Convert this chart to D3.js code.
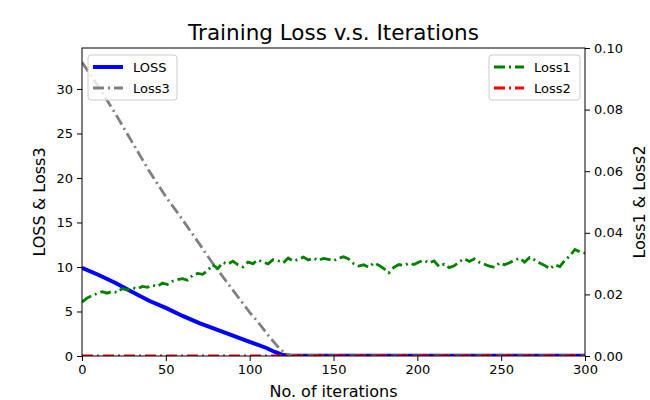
<!DOCTYPE html>
<html>
<head>
<meta charset="utf-8">
<script src="https://cdn.jsdelivr.net/npm/d3@7"></script>
<style>
  body { margin: 0; background: #fff; }
  svg { font-family: "DejaVu Sans", sans-serif; }
</style>
</head>
<body>
<div id="chart"></div>
<script>
// data
// ==================================
// LOSS and Loss3 (left axis) are smooth, so a few points are enough
var lossIters = [0, 10, 20, 30, 40, 50, 60, 70, 80, 90, 100, 110, 115, 120, 125, 150, 200, 250, 300];
var lossVals = [9.9, 9.1, 8.2, 7.2, 6.2, 5.4, 4.5, 3.7, 3.0, 2.3, 1.6, 0.9, 0.45, 0.1, 0.03, 0.02, 0.02, 0.02, 0.02];

var loss3Iters = [0, 10, 20, 30, 35, 40, 50, 60, 70, 78, 90, 100, 105, 112, 118, 122, 125, 150, 200, 250, 300];
var loss3Vals = [33.0, 30.2, 27.2, 24.0, 22.4, 20.8, 17.9, 15.3, 12.6, 10.4, 7.4, 4.9, 3.8, 2.1, 0.8, 0.2, 0.05, 0.02, 0.02, 0.02, 0.02];

// Loss1 (right axis), one value every 3 iterations
var loss1Step = 3;
var loss1Vals = [
  0.0175, 0.0188, 0.0196, 0.0203, 0.0209, 0.0204, 0.0210, 0.0206, 0.0219, 0.0214,
  0.0222, 0.0218, 0.0226, 0.0223, 0.0230, 0.0226, 0.0237, 0.0232, 0.0243, 0.0248,
  0.0251, 0.0246, 0.0262, 0.0268, 0.0265, 0.0278, 0.0296, 0.0284, 0.0304, 0.0298,
  0.0308, 0.0296, 0.0289, 0.0305, 0.0300, 0.0312, 0.0305, 0.0299, 0.0313, 0.0309,
  0.0302, 0.0318, 0.0308, 0.0314, 0.0321, 0.0312, 0.0318, 0.0310, 0.0317, 0.0314,
  0.0309, 0.0318, 0.0322, 0.0315, 0.0300, 0.0292, 0.0296, 0.0288, 0.0302, 0.0295,
  0.0284, 0.0270, 0.0288, 0.0297, 0.0294, 0.0301, 0.0297, 0.0305, 0.0311, 0.0302,
  0.0309, 0.0290, 0.0298, 0.0287, 0.0293, 0.0306, 0.0316, 0.0307, 0.0315, 0.0304,
  0.0298, 0.0292, 0.0288, 0.0302, 0.0296, 0.0303, 0.0311, 0.0318, 0.0305, 0.0320,
  0.0312, 0.0302, 0.0294, 0.0283, 0.0296, 0.0290, 0.0311, 0.0325, 0.0346, 0.0338,
  0.0334
];

// Loss2 sits on zero the whole run
var loss2Iters = [0, 100, 200, 300];
var loss2Vals = [0, 0, 0, 0];

var xTicks = [0, 50, 100, 150, 200, 250, 300];
var yLeftTicks = [0, 5, 10, 15, 20, 25, 30];
var yRightTicks = [0, 0.02, 0.04, 0.06, 0.08, 0.10];

// SVG wrapper and plot area
// =========================
var svgWidth = 650;
var svgHeight = 400;

var margin = { top: 48, right: 65, bottom: 44, left: 82 };
var width = svgWidth - margin.left - margin.right;
var height = svgHeight - margin.top - margin.bottom;

var svg = d3.select("#chart")
  .append("svg")
  .attr("width", svgWidth)
  .attr("height", svgHeight);

svg.append("defs").append("clipPath")
  .attr("id", "plotClip")
  .append("rect")
  .attr("width", width)
  .attr("height", height);

var chartGroup = svg.append("g")
  .attr("transform", `translate(${margin.left}, ${margin.top})`);

// scales
var xScale = d3.scaleLinear().domain([0, 300]).range([0, width]);
var yLeft = d3.scaleLinear().domain([0, 34.6]).range([height, 0]);
var yRight = d3.scaleLinear().domain([0, 0.1]).range([height, 0]);

function toPoints(iters, vals) {
  return iters.map((it, i) => ({ x: it, y: vals[i] }));
}

var lossData = toPoints(lossIters, lossVals);
var loss3Data = toPoints(loss3Iters, loss3Vals);
var loss1Data = loss1Vals.map((v, i) => ({ x: i * loss1Step, y: v }));
var loss2Data = toPoints(loss2Iters, loss2Vals);

var lineLeft = d3.line().x(d => xScale(d.x)).y(d => yLeft(d.y));
var lineRight = d3.line().x(d => xScale(d.x)).y(d => yRight(d.y));

var lines = chartGroup.append("g").attr("clip-path", "url(#plotClip)");

// left axis lines
lines.append("path")
  .datum(lossData)
  .attr("d", lineLeft)
  .attr("fill", "none")
  .attr("stroke", "#0000ff")
  .attr("stroke-width", 4);

lines.append("path")
  .datum(loss3Data)
  .attr("d", lineLeft)
  .attr("fill", "none")
  .attr("stroke", "#808080")
  .attr("stroke-width", 2.8)
  .attr("stroke-dasharray", "11,4,2,4");

// right axis lines
lines.append("path")
  .datum(loss1Data)
  .attr("d", lineRight)
  .attr("fill", "none")
  .attr("stroke", "#008000")
  .attr("stroke-width", 2.8)
  .attr("stroke-dasharray", "11,4,2,4");

lines.append("path")
  .datum(loss2Data)
  .attr("d", lineRight)
  .attr("fill", "none")
  .attr("stroke", "#ff0000")
  .attr("stroke-width", 2.8)
  .attr("stroke-dasharray", "11,4,2,4");

// axes
// ====
function styleAxis(g) {
  g.select(".domain").remove();
  g.selectAll(".tick line").attr("stroke", "#000").attr("stroke-width", 1);
  g.selectAll(".tick text")
    .attr("fill", "#000")
    .style("font-size", "13px")
    .style("font-family", "DejaVu Sans, sans-serif");
}

chartGroup.append("g")
  .attr("transform", `translate(0, ${height})`)
  .call(d3.axisBottom(xScale).tickValues(xTicks).tickSize(5).tickPadding(4))
  .call(styleAxis);

chartGroup.append("g")
  .call(d3.axisLeft(yLeft).tickValues(yLeftTicks).tickSize(5).tickPadding(4))
  .call(styleAxis);

chartGroup.append("g")
  .attr("transform", `translate(${width}, 0)`)
  .call(d3.axisRight(yRight).tickValues(yRightTicks).tickFormat(d3.format(".2f")).tickSize(5).tickPadding(4))
  .call(styleAxis);

// frame
chartGroup.append("rect")
  .attr("width", width)
  .attr("height", height)
  .attr("fill", "none")
  .attr("stroke", "#000")
  .attr("stroke-width", 1);

// titles
// ======
svg.append("text")
  .attr("x", margin.left + width / 2)
  .attr("y", 40)
  .attr("text-anchor", "middle")
  .style("font-size", "21.5px")
  .text("Training Loss v.s. Iterations");

svg.append("text")
  .attr("x", margin.left + width / 2)
  .attr("y", 397)
  .attr("text-anchor", "middle")
  .style("font-size", "16px")
  .text("No. of iterations");

svg.append("text")
  .attr("transform", `translate(45, ${margin.top + height / 2}) rotate(-90)`)
  .attr("text-anchor", "middle")
  .style("font-size", "16px")
  .text("LOSS & Loss3");

svg.append("text")
  .attr("transform", `translate(645, ${margin.top + height / 2}) rotate(-90)`)
  .attr("text-anchor", "middle")
  .style("font-size", "16px")
  .text("Loss1 & Loss2");

// legends
// =======
function drawLegend(x, y, w, entries) {
  var g = chartGroup.append("g").attr("transform", `translate(${x}, ${y})`);
  g.append("rect")
    .attr("width", w)
    .attr("height", 45)
    .attr("rx", 3)
    .attr("fill", "#fff")
    .attr("fill-opacity", 0.8)
    .attr("stroke", "#cccccc")
    .attr("stroke-width", 1);
  entries.forEach(function (e, i) {
    var cy = 12 + i * 21;
    g.append("line")
      .attr("x1", 5).attr("x2", 35)
      .attr("y1", cy).attr("y2", cy)
      .attr("stroke", e.color)
      .attr("stroke-width", e.width)
      .attr("stroke-dasharray", e.dash);
    g.append("text")
      .attr("x", 45)
      .attr("y", cy + 5)
      .style("font-size", "13px")
      .text(e.label);
  });
}

drawLegend(6, 7, 89, [
  { label: "LOSS", color: "#0000ff", width: 4, dash: null },
  { label: "Loss3", color: "#808080", width: 2.8, dash: "11,4,2,4" }
]);

drawLegend(width - 96, 7, 91, [
  { label: "Loss1", color: "#008000", width: 2.8, dash: "11,4,2,4" },
  { label: "Loss2", color: "#ff0000", width: 2.8, dash: "11,4,2,4" }
]);
</script>
</body>
</html>
